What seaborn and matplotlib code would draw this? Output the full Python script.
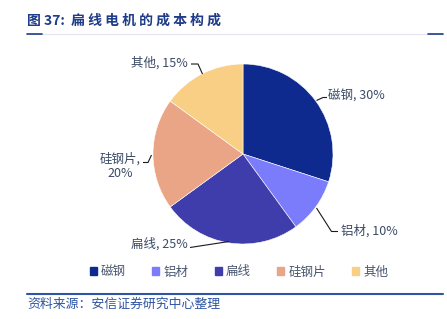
import numpy as np
import pandas as pd
import matplotlib
matplotlib.use('Agg')
import matplotlib.pyplot as plt
import seaborn as sns

parts = ['磁钢', '铝材', '扁线', '硅钢片', '其他']
shares = [30, 10, 25, 20, 15]
colors = ['#0f2a8e', '#7b7cfb', '#3f3cab', '#e9a586', '#f8cf85']
labels = ['磁钢, 30%', '铝材, 10%', '扁线, 25%', '硅钢片,\n20%', '其他, 15%']

sns.set_theme(style='white')
plt.rcParams['font.family'] = ['Noto Sans CJK SC', 'DejaVu Sans']

df = pd.DataFrame({'part': parts, 'share': shares})
pal = sns.color_palette(colors)

fig = plt.figure(figsize=(4.47, 3.19), dpi=100)
W, H = 447, 319
# pie centre (243,154) px, radius 90 px
ax = fig.add_axes([93 / W, (H - 264) / H, 300 / W, 220 / H])
wedges, _ = ax.pie(df['share'], colors=pal, startangle=90, counterclock=False,
                   radius=1, wedgeprops={'edgecolor': 'white', 'linewidth': 0.4})
ax.set_xlim(-150 / 90, 150 / 90)
ax.set_ylim(-110 / 90, 110 / 90)
ax.set_aspect('equal')
ax.axis('off')

def d(px, py):
    return ((px - 243) / 90, (154 - py) / 90)

txt_col = '#3b4a66'
# label: text anchor (px), ha, polyline points (px)
spec = [
    ((328, 96), 'left', [(316.5, 100.5), (323, 97.5), (327, 97.5)]),
    ((341, 231), 'left', [(316.5, 208), (331.5, 231.5), (338, 231.5)]),
    ((188, 244), 'right', [(229, 241.5), (190, 247.5)]),
    ((120, 166), 'center', [(151.5, 155), (148, 162.5), (143, 162.5)]),
    ((188, 63), 'right', [(202.5, 74), (198, 64), (191, 64)]),
]
for lab, (pos, ha, pts) in zip(labels, spec):
    ax.text(*d(*pos), lab, ha=ha, va='center', fontsize=9, color=txt_col,
            linespacing=1.1)
    xs, ys = zip(*[d(*p) for p in pts])
    ax.plot(xs, ys, color='#1a1a1a', lw=0.8, solid_capstyle='butt')

handles = [plt.Rectangle((0, 0), 1, 1, color=c) for c in colors]
fig.legend(handles, parts, loc='center', bbox_to_anchor=(239 / W, 1 - 272 / H),
           ncol=5, frameon=False, fontsize=9, handlelength=0.55, handleheight=0.55,
           handletextpad=0.35, columnspacing=2.1, labelcolor='#4a5670')

# title and rules
fig.text(27 / W, 1 - 21 / H, '图 37:  扁 线 电 机 的 成 本 构 成', fontsize=10,
         fontweight='bold', color='#1f3c88', ha='left', va='center')
fig.add_artist(plt.Line2D([27 / W, 443 / W], [1 - 34 / H] * 2, color='#e3e6ef', lw=0.8))
fig.add_artist(plt.Line2D([27 / W, 42 / W], [1 - 34 / H] * 2, color='#1f3c88', lw=1.2))
fig.add_artist(plt.Line2D([428 / W, 443 / W], [1 - 34 / H] * 2, color='#1f3c88', lw=1.2))
fig.add_artist(plt.Line2D([27 / W, 443 / W], [1 - 294 / H] * 2, color='#2f55a4', lw=1.5))
fig.text(27 / W, 1 - 304 / H, '资料来源：安信证券研究中心整理', fontsize=9.3,
         style='italic', color='#2f55a4', ha='left', va='center')

fig.savefig('out.png', dpi=100)
